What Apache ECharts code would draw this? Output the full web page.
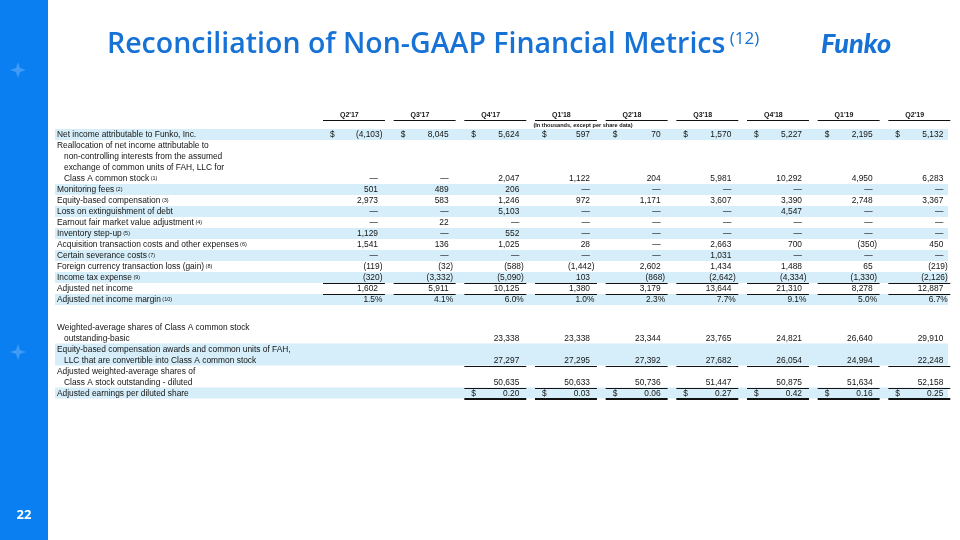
<!DOCTYPE html>
<html><head><meta charset="utf-8">
<script src="https://cdn.jsdelivr.net/npm/echarts@6/dist/echarts.min.js"></script>
<style>html,body{margin:0;padding:0;background:#fff}#c{width:960px;height:540px}</style>
</head><body><div id="c"></div>
<script>
// ---------------- data ----------------
const quarters = ["Q2'17","Q3'17","Q4'17","Q1'18","Q2'18","Q3'18","Q4'18","Q1'19","Q2'19"];

const netIncome      = [-4103, 8045, 5624, 597, 70, 1570, 5227, 2195, 5132];
const reallocation   = [0, 0, 2047, 1122, 204, 5981, 10292, 4950, 6283];
const monitoringFees = [501, 489, 206, 0, 0, 0, 0, 0, 0];
const equityComp     = [2973, 583, 1246, 972, 1171, 3607, 3390, 2748, 3367];
const debtLoss       = [0, 0, 5103, 0, 0, 0, 4547, 0, 0];
const earnout        = [0, 22, 0, 0, 0, 0, 0, 0, 0];
const inventoryStep  = [1129, 0, 552, 0, 0, 0, 0, 0, 0];
const acquisition    = [1541, 136, 1025, 28, 0, 2663, 700, -350, 450];
const severance      = [0, 0, 0, 0, 0, 1031, 0, 0, 0];
const fxLoss         = [-119, -32, -588, -1442, 2602, 1434, 1488, 65, -219];
const incomeTax      = [-320, -3332, -5090, 103, -868, -2642, -4334, -1330, -2126];
const adjNetIncome   = [1602, 5911, 10125, 1380, 3179, 13644, 21310, 8278, 12887];
const adjMargin      = [1.5, 4.1, 6.0, 1.0, 2.3, 7.7, 9.1, 5.0, 6.7];
const sharesBasic    = [null, null, 23338, 23338, 23344, 23765, 24821, 26640, 29910];
const dilutiveUnits  = [null, null, 27297, 27295, 27392, 27682, 26054, 24994, 22248];
const sharesDiluted  = [null, null, 50635, 50633, 50736, 51447, 50875, 51634, 52158];
const adjEPS         = [null, null, 0.20, 0.03, 0.06, 0.27, 0.42, 0.16, 0.25];

const rowLabels = [
  ["Net income attributable to Funko, Inc."],
  ["Reallocation of net income attributable to", "non-controlling interests from the assumed", "exchange of common units of FAH, LLC for", "Class A common stock"],
  ["Monitoring fees"],
  ["Equity-based compensation"],
  ["Loss on extinguishment of debt"],
  ["Earnout fair market value adjustment"],
  ["Inventory step-up"],
  ["Acquisition transaction costs and other expenses"],
  ["Certain severance costs"],
  ["Foreign currency transaction loss (gain)"],
  ["Income tax expense"],
  ["Adjusted net income"],
  ["Adjusted net income margin"],
  ["Weighted-average shares of Class A common stock", "outstanding-basic"],
  ["Equity-based compensation awards and common units of FAH,", "LLC that are convertible into Class A common stock"],
  ["Adjusted weighted-average shares of", "Class A stock outstanding - diluted"],
  ["Adjusted earnings per diluted share"]
];
const rowNotes = ["", "(1)", "(2)", "(3)", "", "(4)", "(5)", "(6)", "(7)", "(8)", "(9)", "", "(10)", "", "", "", ""];
const rowValues = [netIncome, reallocation, monitoringFees, equityComp, debtLoss, earnout, inventoryStep,
  acquisition, severance, fxLoss, incomeTax, adjNetIncome, adjMargin, sharesBasic, dilutiveUnits, sharesDiluted, adjEPS];
const unitNote = "(In thousands, except per share data)";

// ---------------- formatting / layout ----------------
const rowKind = ["usd","int","int","int","int","int","int","int","int","int","int","int","pct","int","int","int","eps"];
const rowRule = {10:"thin", 11:"thin", 14:"thin", 15:"thin", 16:"thick"};
const gapBefore = {13: 1.5};

function fmt(v, kind){
  if (v === null || v === undefined) return null;
  if (kind === "pct") return v.toFixed(1) + "%";
  if (kind === "eps") return v.toFixed(2);
  if (v === 0) return "\u2014";
  const s = Math.abs(v).toLocaleString("en-US");
  return v < 0 ? "(" + s + ")" : s;
}

const bandData = [], labelData = [], labelInfo = [], cellData = [], cellInfo = [], dollarData = [], ruleData = [], ruleInfo = [];
let cur = 0;
rowLabels.forEach((lines, r) => {
  if (gapBefore[r]) cur += gapBefore[r];
  const start = cur, end = cur + lines.length;
  if (r % 2 === 0) bandData.push([0, start, end]);
  lines.forEach((t, li) => {
    labelData.push([0, start + li + 0.5]);
    labelInfo.push({text: t, note: li === lines.length - 1 ? rowNotes[r] : "", indent: li > 0});
  });
  const yv = end - 0.5;
  rowValues[r].forEach((v, c) => {
    const s = fmt(v, rowKind[r]);
    if (s === null) return;
    cellData.push([c, yv]);
    cellInfo.push({text: s, hang: (typeof v === "number" && v < 0) || rowKind[r] === "pct"});
    if (rowKind[r] === "usd" || rowKind[r] === "eps") dollarData.push([c, yv]);
    if (rowRule[r]) { ruleData.push([c, end]); ruleInfo.push(rowRule[r]); }
  });
  cur = end;
});
quarters.forEach((q, c) => { ruleData.push([c, -0.78]); ruleInfo.push("thin"); });
const totalLines = cur + 0.5;

const FONT = '"Liberation Sans", Arial, sans-serif';
const TXT = "#141414";
const FS = 8.4;

const chart = echarts.init(document.getElementById("c"), null, {renderer: "canvas"});
chart.setOption({
  animation: false,
  backgroundColor: "#ffffff",
  grid: {left: 318, top: 129, width: 636, height: 275},
  xAxis: {
    type: "category", data: quarters, position: "top",
    axisLine: {show: false}, axisTick: {show: false}, splitLine: {show: false},
    axisLabel: {margin: 10, fontSize: 7, fontWeight: "bold", fontFamily: FONT, color: TXT, padding: [0, 8, 0, 0]}
  },
  yAxis: {type: "value", inverse: true, min: 0, max: totalLines, show: false},
  graphic: [
    {type: "rect", left: 0, top: 0, shape: {width: 48, height: 540}, style: {fill: "#0a7ff2"}},
    {type: "polygon", shape: {points: [[18,62],[20,68],[26,70],[20,72],[18,78],[16,72],[10,70],[16,68]]}, style: {fill: "rgba(255,255,255,0.22)"}},
    {type: "polygon", shape: {points: [[18,344],[20,350],[26,352],[20,354],[18,360],[16,354],[10,352],[16,350]]}, style: {fill: "rgba(255,255,255,0.22)"}},
    {type: "text", x: 24, y: 515, style: {text: "22", fill: "#ffffff", font: 'bold 13px "Open Sans", sans-serif', align: "center", verticalAlign: "middle"}},
    {type: "text", x: 107, y: 45, style: {
      text: "{t|Reconciliation of Non-GAAP Financial Metrics}{s| (12)}",
      verticalAlign: "middle", align: "left",
      rich: {
        t: {fontSize: 28.5, fontWeight: 600, fontFamily: '"Open Sans", sans-serif', fill: "#1672d4", color: "#1672d4"},
        s: {fontSize: 17, fontFamily: '"Open Sans", sans-serif', fill: "#1672d4", color: "#1672d4", verticalAlign: "top"}
      }}},
    {type: "text", x: 821, y: 44, style: {text: "Funko", fill: "#1672d4", font: 'italic 900 27px Lato, sans-serif', verticalAlign: "middle", align: "left"}},
    {type: "text", x: 583, y: 125.5, style: {text: unitNote, fill: TXT, font: 'bold 5.6px ' + FONT, align: "center", verticalAlign: "middle"}}
  ],
  series: [
    {
      type: "custom", data: bandData, z: 1, silent: true,
      renderItem(params, api) {
        const cs = params.coordSys;
        const y0 = api.coord([0, api.value(1)])[1];
        const y1 = api.coord([0, api.value(2)])[1];
        return {type: "rect", shape: {x: cs.x - 263, y: y0, width: cs.width + 257, height: y1 - y0}, style: {fill: "#d5eef9"}};
      }
    },
    {
      type: "custom", data: labelData, z: 3, silent: true,
      renderItem(params, api) {
        const cs = params.coordSys;
        const info = labelInfo[params.dataIndex];
        const y = api.coord([0, api.value(1)])[1];
        const t = info.note ? "{a|" + info.text + "}{s| " + info.note + "}" : "{a|" + info.text + "}";
        return {type: "text", style: {
          text: t, x: cs.x - 261 + (info.indent ? 7 : 0), y: y + 0.5, align: "left", verticalAlign: "middle",
          rich: {a: {fontSize: FS, fontFamily: FONT, fill: TXT, color: TXT},
                 s: {fontSize: 5.5, fontFamily: FONT, fill: TXT, color: TXT, verticalAlign: "top"}}
        }};
      }
    },
    {
      type: "custom", data: cellData, z: 3, silent: true,
      renderItem(params, api) {
        const info = cellInfo[params.dataIndex];
        const p = api.coord([api.value(0), api.value(1)]);
        const bw = api.size([1, 0])[0];
        const right = p[0] + bw / 2 - 10.7 + (info.hang ? 4.5 : 0);
        return {type: "text", style: {text: info.text, x: right, y: p[1] + 0.5, align: "right", verticalAlign: "middle",
          fontSize: FS, fontFamily: FONT, fill: TXT}};
      }
    },
    {
      type: "custom", data: dollarData, z: 3, silent: true,
      renderItem(params, api) {
        const p = api.coord([api.value(0), api.value(1)]);
        const bw = api.size([1, 0])[0];
        return {type: "text", style: {text: "$", x: p[0] - bw / 2 + 12, y: p[1] + 0.5, align: "left", verticalAlign: "middle",
          fontSize: FS, fontFamily: FONT, fill: TXT}};
      }
    },
    {
      type: "custom", data: ruleData, z: 4, silent: true,
      renderItem(params, api) {
        const p = api.coord([api.value(0), api.value(1)]);
        const bw = api.size([1, 0])[0];
        const thick = ruleInfo[params.dataIndex] === "thick";
        const y = Math.round(p[1]) + (thick ? 0 : 0.5);
        return {type: "line", shape: {x1: p[0] - bw / 2 + 5, y1: y, x2: p[0] + bw / 2 - 3.7, y2: y},
          style: {stroke: "#111", lineWidth: thick ? 2 : 1}};
      }
    }
  ]
});
</script></body></html>
